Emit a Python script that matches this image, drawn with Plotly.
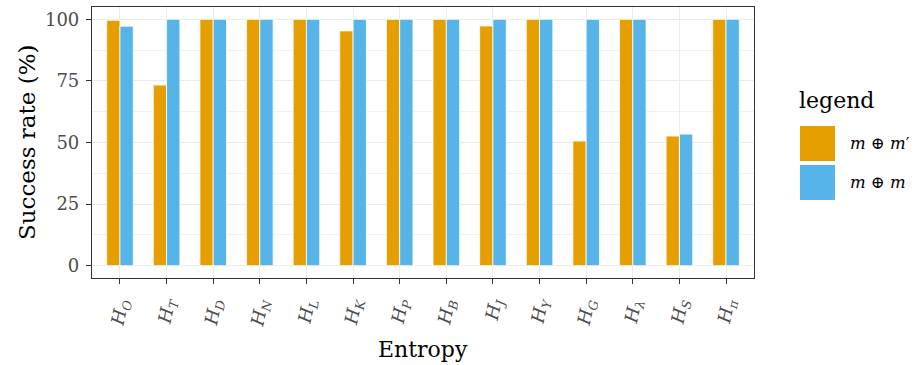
import plotly.graph_objects as go

# ---- data ----
categories = ["<i>H<sub>O</sub></i>", "<i>H<sub>T</sub></i>", "<i>H<sub>D</sub></i>", "<i>H<sub>N</sub></i>",
              "<i>H<sub>L</sub></i>", "<i>H<sub>K</sub></i>", "<i>H<sub>P</sub></i>", "<i>H<sub>B</sub></i>",
              "<i>H<sub>J</sub></i>", "<i>H<sub>Y</sub></i>", "<i>H<sub>G</sub></i>", "<i>H<sub>λ</sub></i>",
              "<i>H<sub>S</sub></i>", "<i>H<sub>π</sub></i>"]
series_names = ["<i>m</i> ⊕ <i>m</i>′", "<i>m</i> ⊕ <i>m</i>"]
values_mm_prime = [99.6, 73.3, 100, 100, 100, 95.3, 100, 100, 97.3, 100, 50.6, 100, 52.6, 100]
values_mm = [97.2, 100, 100, 100, 100, 100, 100, 100, 100, 100, 100, 100, 53.4, 100]
y_ticks = [0, 25, 50, 75, 100]

colors = ["#E69F00", "#56B4E9"]
FONT = "DejaVu Serif"
W, H = 915, 365
L, R, T, B = 92, 754, 7, 278

fig = go.Figure()
for name, vals, c in zip(series_names, [values_mm_prime, values_mm], colors):
    fig.add_trace(go.Bar(x=list(range(len(categories))), y=vals, name=name,
                         marker=dict(color=c, line=dict(color="white", width=0.8)),
                         showlegend=False))

fig.update_layout(
    width=W, height=H,
    margin=dict(l=L, r=W - R, t=T, b=H - B, autoexpand=False),
    paper_bgcolor="white", plot_bgcolor="white",
    barmode="group", bargap=0.43, bargroupgap=0.0,
    font=dict(family=FONT, color="#000000"),
)
fig.update_xaxes(
    automargin=False,
    range=[-0.6, len(categories) - 0.4],
    tickmode="array", tickvals=list(range(len(categories))), ticktext=categories,
    tickangle=-78, tickfont=dict(size=18, color="#4D4D4D", family=FONT),
    ticks="outside", ticklen=5, tickcolor="#333333", ticklabelstandoff=2,
    showgrid=True, gridcolor="#EBEBEB", gridwidth=1,
    showline=True, linecolor="#333333", linewidth=1.2, mirror=True,
    zeroline=False,
)
fig.update_yaxes(
    automargin=False,
    range=[-5, 105],
    tickmode="array", tickvals=y_ticks, ticktext=[str(v) for v in y_ticks],
    tickfont=dict(size=18, color="#4D4D4D", family=FONT),
    ticks="outside", ticklen=5, tickcolor="#333333", ticklabelstandoff=3,
    showgrid=True, gridcolor="#EBEBEB", gridwidth=1,
    minor=dict(tick0=12.5, dtick=25, showgrid=True, gridcolor="#F2F2F2", gridwidth=0.6, ticks=""),
    showline=True, linecolor="#333333", linewidth=1.2, mirror=True,
    zeroline=False,
)

# ---- helpers for pixel placement ----
def px(xp):
    return (xp - L) / (R - L)

def py(yp):
    return (B - yp) / (B - T)

# axis titles
fig.add_annotation(text="Entropy", xref="paper", yref="paper", x=px(423), y=py(349),
                   xanchor="center", yanchor="middle", showarrow=False,
                   font=dict(size=22, family=FONT, color="black"))
fig.add_annotation(text="Success rate (%)", xref="paper", yref="paper", x=px(27), y=py(142),
                   xanchor="center", yanchor="middle", showarrow=False, textangle=-90,
                   font=dict(size=23, family=FONT, color="black"))

# ---- custom legend ----
fig.add_annotation(text="legend", xref="paper", yref="paper", x=px(797), y=py(100),
                   xanchor="left", yanchor="middle", showarrow=False,
                   font=dict(size=22, family=FONT, color="black"))
key_tops = [126, 165]
for name, c, top in zip(series_names, colors, key_tops):
    fig.add_shape(type="rect", xref="paper", yref="paper",
                  x0=px(800), x1=px(835), y0=py(top + 35), y1=py(top),
                  fillcolor=c, line=dict(width=0))
    fig.add_annotation(text=name, xref="paper", yref="paper", x=px(848), y=py(top + 17.5),
                       xanchor="left", yanchor="middle", showarrow=False,
                       font=dict(size=16.5, family=FONT, color="black"))

fig.write_html("out.html", config={"displayModeBar": False},
               post_script="document.body.style.margin='0';")
